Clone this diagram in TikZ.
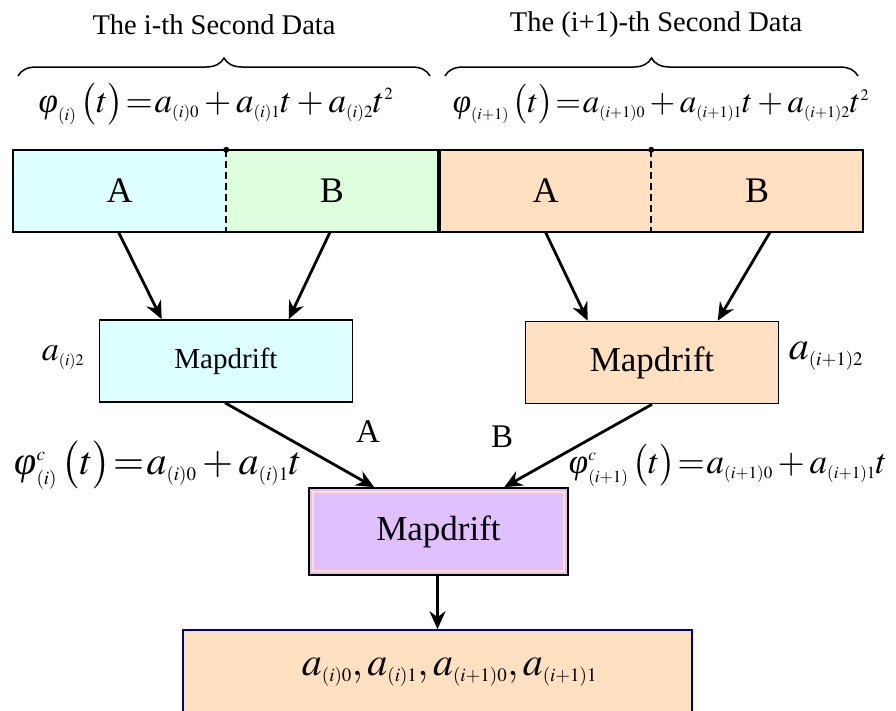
\documentclass[tikz,border=0pt]{standalone}
\usepackage{mathptmx}
\usepackage[no-math]{fontspec}
\setmainfont{Liberation Serif}
\usetikzlibrary{arrows.meta,calc,decorations.pathreplacing}
\DeclareMathSizes{33}{33}{16}{12}
\DeclareMathSizes{34}{34}{16}{12}
\DeclareMathSizes{35}{35}{17}{12}
\DeclareMathSizes{36}{36}{17}{12}
\DeclareMathSizes{40}{40}{19}{14}
\DeclareMathSizes{42}{42}{20}{14}
\newcommand\eqsz[1]{\fontsize{#1}{#1}\selectfont\thickmuskip=1mu\medmuskip=2.5mu}
\newcommand\vphi{\mbox{\itshape φ}}
\newcommand\pt[1]{\,\bigl(#1\bigr)}
\definecolor{cyanL}{HTML}{DDFFFF}
\definecolor{greenL}{HTML}{DDFFDD}
\definecolor{peachL}{HTML}{FFE0C0}
\definecolor{purpleL}{HTML}{E0C0FF}
\definecolor{navyB}{HTML}{000080}
\tikzset{
  part/.style={rectangle, inner sep=0pt, minimum height=82pt, font=\fontsize{36}{40}\selectfont},
  mdbox/.style={rectangle, draw=black, line width=1.6pt, inner sep=0pt, minimum width=253pt, minimum height=82pt},
  arr/.style={line width=2.8pt, -{Stealth[length=18pt,width=16pt,inset=6pt]}},
  eq/.style={inner sep=0pt},
  ttl/.style={inner sep=0pt, font=\fontsize{28.5}{32}\selectfont},
  brc/.style={decorate, decoration={brace, amplitude=18pt}, line width=1.5pt},
  divl/.style={line width=2pt, dash pattern=on 7pt off 4pt},
}
\begin{document}
\begin{tikzpicture}[x=1pt,y=-1pt]
\useasboundingbox (0,0) rectangle (896,710);
% titles
\node[ttl] (t1) at (214,25) {The i-th Second Data};
\node[ttl] (t2) at (656,25) {The (i+1)-th Second Data};
\coordinate (b1s) at (18,76);
\coordinate (b1e) at (430,76);
\coordinate (b2s) at (445,76);
\coordinate (b2e) at (858,76);
\draw[brc] (b1s) -- (b1e);
\draw[brc] (b2s) -- (b2e);
% equations on top
\node[eq, font=\eqsz{35}] (e1) at (216,104) {$\vphi_{(i)}\pt{t}=a_{(i)0}+a_{(i)1}t+a_{(i)2}t^{2}$};
\node[eq, font=\eqsz{33}] (e2) at (661,104) {$\vphi_{(i+1)}\pt{t}=a_{(i+1)0}+a_{(i+1)1}t+a_{(i+1)2}t^{2}$};
% top bar
\node[part, fill=cyanL, minimum width=213pt] (pA1) at (119.5,191) {A};
\node[part, fill=greenL, minimum width=212pt] (pB1) at (332,191) {\raisebox{-5pt}{B}};
\node[part, fill=peachL, minimum width=211pt] (pA2) at (545.5,191) {A};
\node[part, fill=peachL, minimum width=212pt] (pB2) at (757,191) {B};
\draw[line width=1.6pt] (pA1.north west) rectangle (pB1.south east);
\draw[line width=1.6pt] (pA2.north west) rectangle (pB2.south east);
\draw[divl] (pA1.north east) -- (pA1.south east);
\draw[divl] (pA2.north east) -- (pA2.south east);
\fill (pA1.north east) circle (3pt);
\fill (pA2.north east) circle (3pt);
% mapdrift boxes
\node[mdbox, fill=cyanL, font=\fontsize{29}{32}\selectfont] (m1) at (226,361) {Mapdrift};
\node[mdbox, fill=peachL, font=\fontsize{35}{40}\selectfont] (m2) at (652,362.5) {Mapdrift};
\node[mdbox, fill=purpleL, minimum width=259pt, minimum height=87pt, font=\fontsize{35}{40}\selectfont] (m3) at (438.5,531.5) {Mapdrift};
\draw[peachL, line width=1.8pt] ($(m3.north west)+(5,5)$) rectangle ($(m3.south east)+(-5,-5)$);
% result box
\node[rectangle, fill=peachL, draw=navyB, line width=1.6pt, minimum width=509pt, minimum height=84pt, inner sep=0pt, font=\eqsz{40}] (r) at (437.5,672)
  {\hspace*{24pt}$a_{(i)0},a_{(i)1},a_{(i+1)0},a_{(i+1)1}$};
% side labels
\node[eq, font=\eqsz{34}] (l1) at (63,358) {$a_{(i)2}$};
\node[eq, font=\eqsz{40}] (l2) at (826,356) {$a_{(i+1)2}$};
\node[ttl, font=\fontsize{33}{36}\selectfont] (lA) at (368,432) {A};
\node[ttl, font=\fontsize{33}{36}\selectfont] (lB) at (502,437) {B};
\node[eq, font=\eqsz{40}] (e3) at (158,465) {$\vphi^{c}_{(i)}\pt{t}=a_{(i)0}+a_{(i)1}t$};
\node[eq, font=\eqsz{35}] (e4) at (728,465) {$\vphi^{c}_{(i+1)}\pt{t}=a_{(i+1)0}+a_{(i+1)1}t$};
% arrows
\draw[arr] ($(pA1.south)+(-1,0)$) -- ($(m1.north west)+(63,0)$);
\draw[arr] ($(pB1.south)+(-2,0)$) -- ($(m1.north west)+(190,0)$);
\draw[arr] (pA2.south) -- ($(m2.north west)+(63,0)$);
\draw[arr] ($(pB2.south)+(13,0)$) -- ($(m2.north west)+(193,0)$);
\draw[arr] ($(m1.south)+(-1,0)$) -- ($(m3.north west)+(66,0)$);
\draw[arr] (m2.south) -- ($(m3.north west)+(196,0)$);
\draw[arr] ($(m3.south)+(-1,0)$) -- ($(m3.south |- r.north)+(-1,0)$);
\end{tikzpicture}
\end{document}
